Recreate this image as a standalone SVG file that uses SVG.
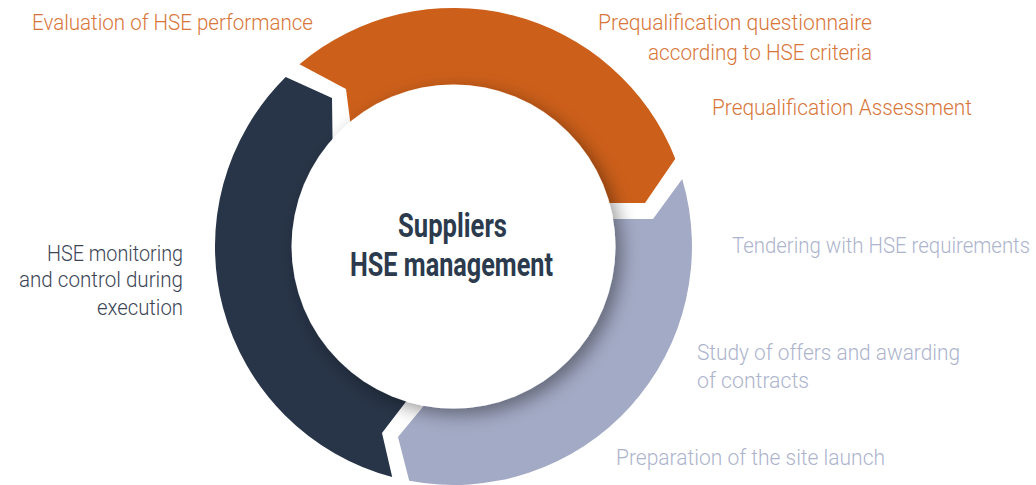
<svg xmlns="http://www.w3.org/2000/svg" width="1036" height="485" viewBox="0 0 1036 485">
<style>
.lbl{font-family:Roboto,"Liberation Sans",sans-serif;font-size:21.5px;font-weight:300}
.or{fill:#D8763A}
.bl{fill:#ADB4CD}
.nv{fill:#3B4556}
.ctr{font-family:Roboto,"Liberation Sans",sans-serif;font-size:34px;font-weight:700;fill:#2B3A4C}
</style>
<defs>
<filter id="sh" x="-30%" y="-30%" width="160%" height="160%">
<feDropShadow dx="6" dy="6" stdDeviation="9" flood-color="#000" flood-opacity="0.4"/>
</filter>
</defs>
<rect width="1036" height="485" fill="#fff"/>
<g id="seg-navy"><path d="M 392.2,477 A 238.5 238.5 0 0 1 285.7,77 L 332,98 L 333,175 A 140 140 0 0 0 421,382 L 382,433 Z" fill="#283548"/></g>
<g id="seg-orange"><path d="M 299.5,64.3 A 238.5 238.5 0 0 1 675.3,158.7 L 645,203 L 586.6,203 A 140 140 0 0 0 353.6,147.9 L 346,89 Z" fill="#CC5F1A"/></g>
<g id="seg-blue"><path d="M 682.2,178.9 A 238.5 238.5 0 0 1 409.2,480.8 L 398,437 L 440,386.2 A 140 140 0 0 0 590.8,219 L 653,219 Z" fill="#A3AAC5"/></g>
<g id="center">
<circle cx="453.5" cy="246.5" r="162" fill="#fff" filter="url(#sh)"/>
<text class="ctr" x="452.5" y="237" text-anchor="middle" textLength="109" lengthAdjust="spacingAndGlyphs">Suppliers</text>
<text class="ctr" x="451.5" y="276" text-anchor="middle" textLength="203" lengthAdjust="spacingAndGlyphs">HSE management</text>
</g>
<g id="connectors"></g>
<g id="lbl-eval"><text class="lbl or" x="32" y="30" textLength="281" lengthAdjust="spacingAndGlyphs">Evaluation of HSE performance</text></g>
<g id="lbl-preq"><text class="lbl or" x="872" y="30" text-anchor="end" textLength="274" lengthAdjust="spacingAndGlyphs">Prequalification questionnaire</text>
<text class="lbl or" x="872" y="60" text-anchor="end" textLength="224" lengthAdjust="spacingAndGlyphs">according to HSE criteria</text></g>
<g id="lbl-assess"><text class="lbl or" x="712" y="115" textLength="260" lengthAdjust="spacingAndGlyphs">Prequalification Assessment</text></g>
<g id="lbl-tender"><text class="lbl bl" x="732" y="253" textLength="298" lengthAdjust="spacingAndGlyphs">Tendering with HSE requirements</text></g>
<g id="lbl-study"><text class="lbl bl" x="697" y="360" textLength="263" lengthAdjust="spacingAndGlyphs">Study of offers and awarding</text>
<text class="lbl bl" x="697" y="388" textLength="112" lengthAdjust="spacingAndGlyphs">of contracts</text></g>
<g id="lbl-prep"><text class="lbl bl" x="616" y="465" textLength="269" lengthAdjust="spacingAndGlyphs">Preparation of the site launch</text></g>
<g id="lbl-monitor"><text class="lbl nv" x="183" y="261" text-anchor="end" textLength="136" lengthAdjust="spacingAndGlyphs">HSE monitoring</text>
<text class="lbl nv" x="183" y="287" text-anchor="end" textLength="164" lengthAdjust="spacingAndGlyphs">and control during</text>
<text class="lbl nv" x="183" y="315" text-anchor="end" textLength="86" lengthAdjust="spacingAndGlyphs">execution</text></g>
</svg>
